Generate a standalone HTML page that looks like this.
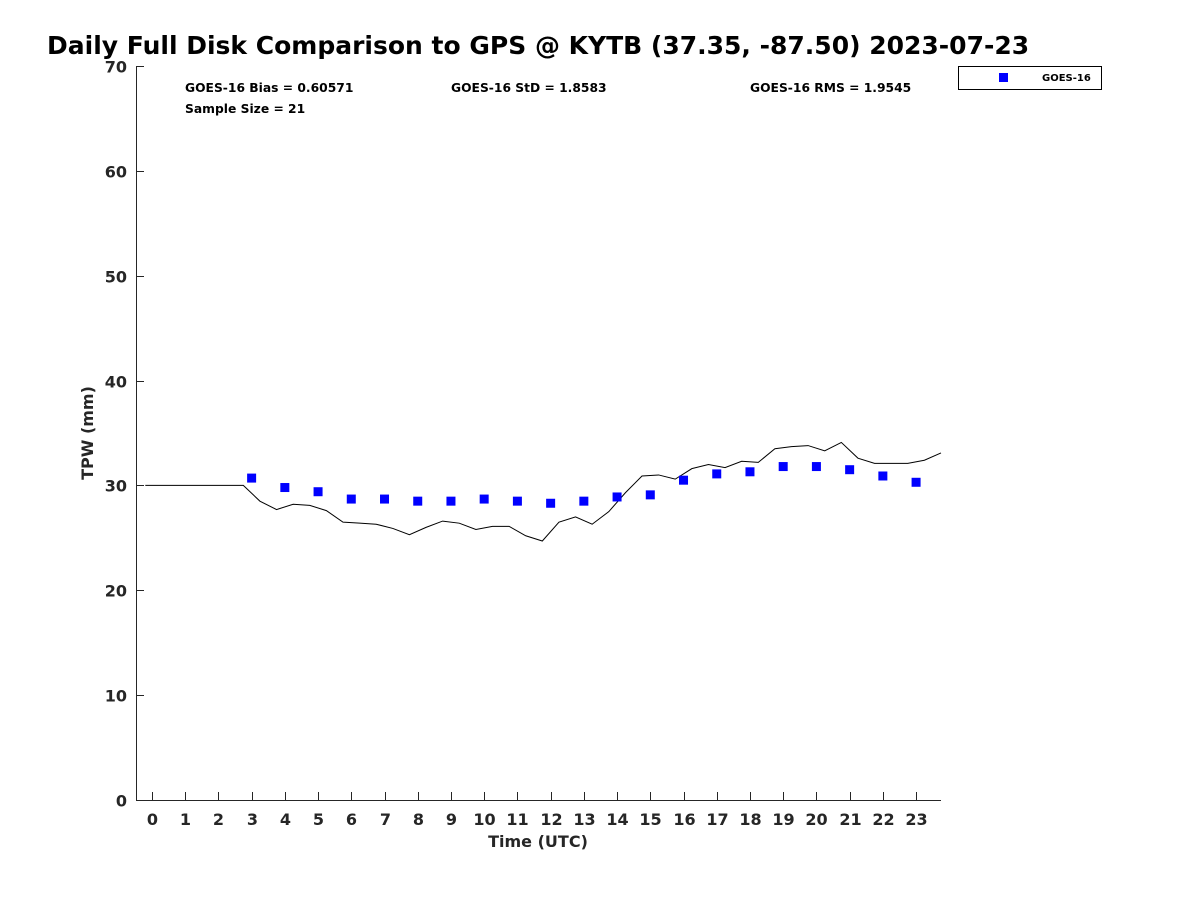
<!DOCTYPE html>
<html><head><meta charset="utf-8"><style>
body{margin:0;background:#fff;width:1200px;height:900px;overflow:hidden}
svg text{font-family:"DejaVu Sans","Liberation Sans",sans-serif;font-weight:bold;fill:#262626}
</style></head><body>
<svg id="chart" width="1200" height="900" xmlns="http://www.w3.org/2000/svg">
<rect width="1200" height="900" fill="#fff"/>
<text x="47" y="54" font-size="25" style="fill:#000">Daily Full Disk Comparison to GPS @ KYTB (37.35, -87.50) 2023-07-23</text>
<g id="axes"></g>
<g id="marks"></g>
<text x="185" y="92" font-size="12.3" style="fill:#000">GOES-16 Bias = 0.60571</text>
<text x="451" y="92" font-size="12.3" style="fill:#000">GOES-16 StD = 1.8583</text>
<text x="750" y="92" font-size="12.3" style="fill:#000">GOES-16 RMS = 1.9545</text>
<text x="185" y="113" font-size="12.3" style="fill:#000">Sample Size = 21</text>
<g>
<rect x="958.5" y="66.5" width="143" height="23" fill="#fff" stroke="#000" stroke-width="1"/>
<rect x="999" y="73" width="9" height="9" fill="#0000ff"/>
<text x="1042" y="81" font-size="10" style="fill:#000">GOES-16</text>
</g>
<text transform="translate(93,433) rotate(-90)" text-anchor="middle" font-size="16">TPW (mm)</text>
<text x="538" y="847" text-anchor="middle" font-size="16">Time (UTC)</text>
</svg>
<script>
const yTicks=[0,10,20,30,40,50,60,70];
const xTicks=[0,1,2,3,4,5,6,7,8,9,10,11,12,13,14,15,16,17,18,19,20,21,22,23];
const gpsTimes=[-0.2,0.25,0.75,1.25,1.75,2.25,2.75,3.25,3.75,4.25,4.75,5.25,5.75,6.25,6.75,7.25,7.75,8.25,8.75,9.25,9.75,10.25,10.75,11.25,11.75,12.25,12.75,13.25,13.75,14.25,14.75,15.25,15.75,16.25,16.75,17.25,17.75,18.25,18.75,19.25,19.75,20.25,20.75,21.25,21.75,22.25,22.75,23.25,23.75];
const gpsValues=[30,30,30,30,30,30,30,28.5,27.7,28.2,28.1,27.6,26.5,26.4,26.3,25.9,25.3,26.0,26.6,26.4,25.8,26.1,26.1,25.2,24.7,26.5,27.0,26.3,27.5,29.3,30.9,31.0,30.6,31.6,32.0,31.7,32.3,32.2,33.5,33.7,33.8,33.3,34.1,32.6,32.1,32.1,32.1,32.4,33.1];
const goesHours=[3,4,5,6,7,8,9,10,11,12,13,14,15,16,17,18,19,20,21,22,23];
const goesValues=[30.7,29.8,29.4,28.7,28.7,28.5,28.5,28.7,28.5,28.3,28.5,28.9,29.1,30.5,31.1,31.3,31.8,31.8,31.5,30.9,30.3];
const NS="http://www.w3.org/2000/svg";
const X0=136,X1=941,Y0=800,Y1=66,xmin=-0.48,xmax=23.75,ymin=0,ymax=70;
const sx=v=>X0+(v-xmin)/(xmax-xmin)*(X1-X0);
const sy=v=>Y0-(v-ymin)/(ymax-ymin)*(Y0-Y1);
function mk(tag,attrs,parent){const e=document.createElementNS(NS,tag);for(const k in attrs)e.setAttribute(k,attrs[k]);parent.appendChild(e);return e;}
const axes=document.getElementById('axes'),marks=document.getElementById('marks');
let e=mk('line',{x1:X0+.5,y1:Y1,x2:X0+.5,y2:Y0,stroke:'#262626'},axes);


e=mk('line',{x1:X0,y1:Y0+.5,x2:X1,y2:Y0+.5,stroke:'#262626'},axes);


yTicks.forEach(v=>{const y=Math.round(sy(v))+.5;
 e=mk('line',{x1:X0,y1:y,x2:X0+8,y2:y,stroke:'#262626'},axes);
 
 
 e=mk('text',{x:X0-9,y:y+6,'text-anchor':'end','font-size':16},axes);e.textContent=v;
 
 });
xTicks.forEach(v=>{const x=Math.round(sx(v))+.5;
 e=mk('line',{x1:x,y1:Y0,x2:x,y2:Y0-8,stroke:'#262626'},axes);
 
 
 e=mk('text',{x:x,y:Y0+25,'text-anchor':'middle','font-size':16},axes);e.textContent=v;
 
 });
e=mk('polyline',{points:gpsTimes.map((t,i)=>sx(t)+','+sy(gpsValues[i])).join(' '),fill:'none',stroke:'#000','stroke-width':1},marks);


goesHours.forEach((h,i)=>{e=mk('rect',{x:sx(h)-4.5,y:sy(goesValues[i])-4.5,width:9,height:9,fill:'#0000ff'},marks);
 
 });
</script>
</body></html>
